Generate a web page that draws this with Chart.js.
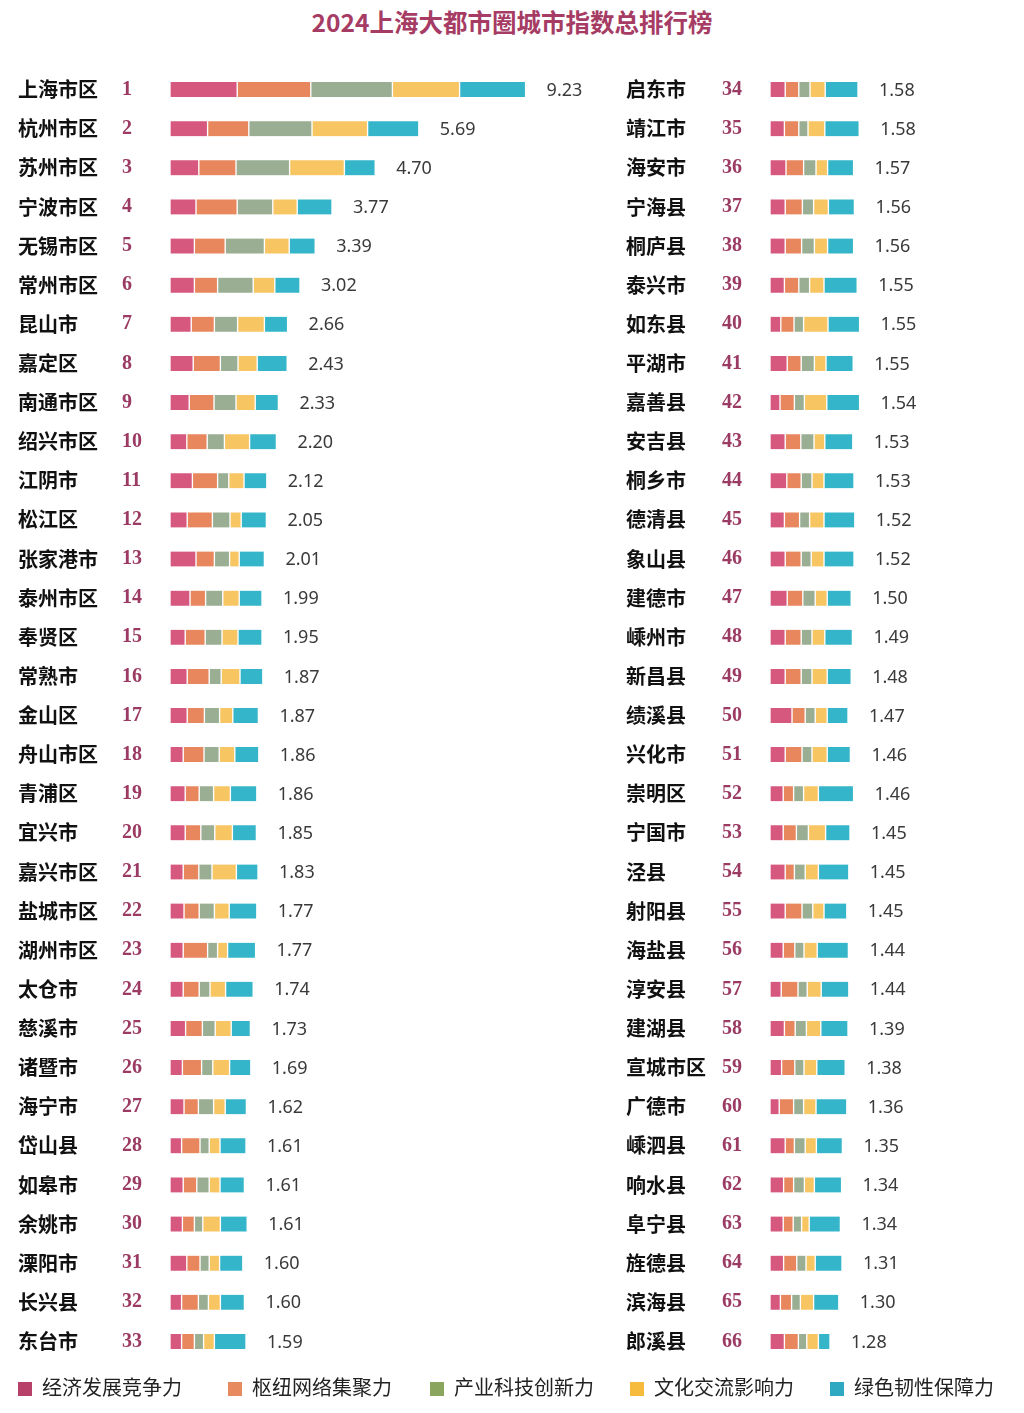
<!DOCTYPE html>
<html>
<head>
<meta charset="utf-8">
<script src="https://cdn.jsdelivr.net/npm/chart.js@4.4.1/dist/chart.umd.min.js"></script>
<style>
  body { margin: 0; background: #fff; width: 1024px; height: 1413px; position: relative; overflow: hidden; }
  #title { position: absolute; top: 4px; left: 0; width: 1024px; text-align: center;
           font: 700 24.5px "Noto Sans CJK SC", sans-serif; color: #a63b64; }
  .box { position: absolute; top: 57.6px; height: 1315px; }
  #legend { position: absolute; top: 1372px; left: 0; width: 1024px; height: 28px;
            font: 400 20px "Noto Sans CJK SC", sans-serif; color: #222; }
  #legend span.item { position: absolute; top: 0; white-space: nowrap; }
  #legend i { display: inline-block; width: 14px; height: 14px; margin-right: 10px; vertical-align: -1px; }
</style>
</head>
<body>
<div id="title">2024上海大都市圈城市指数总排行榜</div>
<div class="box" style="left:0;width:600px"><canvas id="left-chart"></canvas></div>
<div class="box" style="left:600px;width:424px"><canvas id="right-chart"></canvas></div>
<div id="legend"></div>
<script>
// series
let seriesNames = ['经济发展竞争力', '枢纽网络集聚力', '产业科技创新力', '文化交流影响力', '绿色韧性保障力'];
let barColors = ['#d6587f', '#e8875d', '#9aae93', '#f8c563', '#35b5c9'];
let legendColors = ['#b8416a', '#e88a60', '#8aa65e', '#f6bb3c', '#2fa9c2'];

// left column, ranks 1-33
let citiesLeft = ['上海市区', '杭州市区', '苏州市区', '宁波市区', '无锡市区', '常州市区', '昆山市', '嘉定区', '南通市区', '绍兴市区',
    '江阴市', '松江区', '张家港市', '泰州市区', '奉贤区', '常熟市', '金山区', '舟山市区', '青浦区', '宜兴市',
    '嘉兴市区', '盐城市区', '湖州市区', '太仓市', '慈溪市', '诸暨市', '海宁市', '岱山县', '如皋市', '余姚市',
    '溧阳市', '长兴县', '东台市'];
let ranksLeft = ['1', '2', '3', '4', '5', '6', '7', '8', '9', '10', '11', '12', '13', '14', '15', '16', '17',
    '18', '19', '20', '21', '22', '23', '24', '25', '26', '27', '28', '29', '30', '31', '32', '33'];
let totalsLeft = ['9.23', '5.69', '4.70', '3.77', '3.39', '3.02', '2.66', '2.43', '2.33', '2.20', '2.12', '2.05', '2.01',
    '1.99', '1.95', '1.87', '1.87', '1.86', '1.86', '1.85', '1.83', '1.77', '1.77', '1.74', '1.73', '1.69', '1.62',
    '1.61', '1.61', '1.61', '1.60', '1.60', '1.59'];
let econLeft = [1.68, 0.94, 0.72, 0.65, 0.61, 0.61, 0.53, 0.58, 0.48, 0.42, 0.56, 0.43, 0.65, 0.50, 0.38, 0.43, 0.43,
    0.33, 0.38, 0.38, 0.33, 0.35, 0.33, 0.33, 0.39, 0.31, 0.35, 0.29, 0.33, 0.31, 0.42, 0.29, 0.29];
let hubLeft = [1.84, 1.03, 0.93, 1.03, 0.77, 0.58, 0.58, 0.68, 0.62, 0.51, 0.63, 0.63, 0.46, 0.39, 0.50, 0.55, 0.43,
    0.52, 0.35, 0.39, 0.39, 0.38, 0.61, 0.40, 0.42, 0.48, 0.36, 0.46, 0.34, 0.30, 0.33, 0.42, 0.32];
let techLeft = [2.04, 1.58, 1.34, 0.89, 0.98, 0.89, 0.58, 0.44, 0.55, 0.43, 0.28, 0.44, 0.38, 0.43, 0.42, 0.30, 0.38,
    0.38, 0.36, 0.35, 0.33, 0.38, 0.25, 0.27, 0.32, 0.28, 0.38, 0.23, 0.31, 0.21, 0.23, 0.25, 0.23];
let cultureLeft = [1.68, 1.39, 1.37, 0.61, 0.62, 0.54, 0.67, 0.48, 0.48, 0.63, 0.38, 0.28, 0.24, 0.41, 0.40, 0.47, 0.33,
    0.39, 0.42, 0.44, 0.61, 0.37, 0.25, 0.39, 0.40, 0.42, 0.29, 0.27, 0.27, 0.44, 0.26, 0.30, 0.27];
let greenLeft = [1.65, 1.28, 0.77, 0.87, 0.65, 0.63, 0.58, 0.75, 0.58, 0.67, 0.57, 0.63, 0.63, 0.57, 0.60, 0.57, 0.64,
    0.60, 0.66, 0.60, 0.54, 0.69, 0.70, 0.69, 0.48, 0.53, 0.53, 0.65, 0.61, 0.67, 0.58, 0.60, 0.79];

// right column, ranks 34-66
let citiesRight = ['启东市', '靖江市', '海安市', '宁海县', '桐庐县', '泰兴市', '如东县', '平湖市', '嘉善县', '安吉县',
    '桐乡市', '德清县', '象山县', '建德市', '嵊州市', '新昌县', '绩溪县', '兴化市', '崇明区', '宁国市',
    '泾县', '射阳县', '海盐县', '淳安县', '建湖县', '宣城市区', '广德市', '嵊泗县', '响水县', '阜宁县',
    '旌德县', '滨海县', '郎溪县'];
let ranksRight = ['34', '35', '36', '37', '38', '39', '40', '41', '42', '43', '44', '45', '46', '47', '48', '49', '50',
    '51', '52', '53', '54', '55', '56', '57', '58', '59', '60', '61', '62', '63', '64', '65', '66'];
let totalsRight = ['1.58', '1.58', '1.57', '1.56', '1.56', '1.55', '1.55', '1.55', '1.54', '1.53', '1.53', '1.52', '1.52',
    '1.50', '1.49', '1.48', '1.47', '1.46', '1.46', '1.45', '1.45', '1.45', '1.44', '1.44', '1.39', '1.38', '1.36',
    '1.35', '1.34', '1.34', '1.31', '1.30', '1.28'];
let econRight = [0.38, 0.36, 0.40, 0.38, 0.38, 0.36, 0.27, 0.43, 0.25, 0.38, 0.42, 0.36, 0.38, 0.43, 0.38, 0.38, 0.55,
    0.38, 0.33, 0.33, 0.38, 0.38, 0.33, 0.28, 0.36, 0.29, 0.23, 0.38, 0.34, 0.33, 0.34, 0.26, 0.36];
let hubRight = [0.34, 0.36, 0.44, 0.43, 0.41, 0.36, 0.33, 0.35, 0.36, 0.39, 0.36, 0.38, 0.40, 0.39, 0.40, 0.40, 0.33,
    0.42, 0.26, 0.33, 0.23, 0.42, 0.29, 0.42, 0.27, 0.33, 0.36, 0.23, 0.25, 0.25, 0.33, 0.28, 0.35];
let techRight = [0.28, 0.23, 0.31, 0.28, 0.32, 0.27, 0.24, 0.33, 0.25, 0.33, 0.27, 0.25, 0.25, 0.31, 0.27, 0.27, 0.25,
    0.25, 0.25, 0.30, 0.27, 0.27, 0.23, 0.23, 0.28, 0.23, 0.25, 0.27, 0.27, 0.21, 0.23, 0.22, 0.21];
let cultureRight = [0.38, 0.42, 0.29, 0.37, 0.33, 0.36, 0.61, 0.29, 0.56, 0.27, 0.30, 0.36, 0.32, 0.30, 0.32, 0.38, 0.30,
    0.38, 0.37, 0.43, 0.33, 0.28, 0.33, 0.35, 0.36, 0.32, 0.31, 0.28, 0.25, 0.19, 0.23, 0.33, 0.29];
let greenRight = [0.82, 0.86, 0.65, 0.65, 0.65, 0.83, 0.79, 0.68, 0.82, 0.70, 0.75, 0.77, 0.75, 0.60, 0.69, 0.60, 0.52,
    0.58, 0.88, 0.61, 0.76, 0.57, 0.78, 0.69, 0.68, 0.71, 0.77, 0.65, 0.68, 0.78, 0.67, 0.63, 0.29];

// legend
let legendX = [18, 228, 430, 630, 830];
let legendEl = document.getElementById('legend');
seriesNames.forEach(function (name, i) {
    let item = document.createElement('span');
    item.className = 'item';
    item.style.left = legendX[i] + 'px';
    item.innerHTML = '<i style="background:' + legendColors[i] + '"></i>' + name;
    legendEl.appendChild(item);
});

let totalLabels = {
    id: 'totalLabels',
    afterDatasetsDraw(chart, args, opts) {
        let ctx = chart.ctx;
        let meta = chart.getDatasetMeta(chart.data.datasets.length - 1);
        ctx.save();
        ctx.font = '400 18px "Noto Sans", sans-serif';
        ctx.fillStyle = '#3a3a3a';
        ctx.textAlign = 'left';
        ctx.textBaseline = 'middle';
        meta.data.forEach(function (bar, i) {
            ctx.fillText(opts.totals[i], bar.x + 21, bar.y + 1);
        });
        ctx.restore();
    }
};

let makeChart = function (id, cities, ranks, totals, series, opts) {
    let ctx = document.getElementById(id).getContext('2d');
    return new Chart(ctx, {
        type: 'bar',
        data: {
            labels: cities,
            datasets: series.map(function (values, i) {
                return {
                    label: seriesNames[i],
                    data: values,
                    backgroundColor: barColors[i],
                    borderColor: '#ffffff',
                    borderWidth: {left: 1, right: 1, top: 0, bottom: 0},
                    borderSkipped: false,
                    barThickness: 15
                };
            })
        },
        options: {
            indexAxis: 'y',
            responsive: true,
            maintainAspectRatio: false,
            animation: false,
            layout: {padding: {left: opts.padLeft, right: 0, top: 0, bottom: 0}},
            plugins: {
                legend: {display: false},
                tooltip: {enabled: false},
                totalLabels: {totals: totals}
            },
            scales: {
                x: {type: 'linear', stacked: true, min: 0, max: opts.xMax, display: false},
                y: {
                    type: 'category', position: 'left', stacked: true, offset: true, weight: 1,
                    grid: {display: false}, border: {display: false},
                    ticks: {crossAlign: 'far', color: '#111', padding: 0,
                            font: {family: '"Noto Sans CJK SC", sans-serif', size: 20, weight: 700}},
                    afterFit: function (scale) { scale.width = opts.nameWidth; }
                },
                rank: {
                    type: 'category', position: 'left', labels: ranks, offset: true, weight: 0,
                    grid: {display: false}, border: {display: false},
                    ticks: {crossAlign: 'far', color: '#9b3a62', padding: 0,
                            font: {family: '"Liberation Serif", serif', size: 20, weight: 700}},
                    afterFit: function (scale) { scale.width = 48; }
                }
            }
        },
        plugins: [totalLabels]
    });
};

makeChart('left-chart', citiesLeft, ranksLeft, totalsLeft,
    [econLeft, hubLeft, techLeft, cultureLeft, greenLeft],
    {padLeft: 18, nameWidth: 104, xMax: 10.75});
makeChart('right-chart', citiesRight, ranksRight, totalsRight,
    [econRight, hubRight, techRight, cultureRight, greenRight],
    {padLeft: 26, nameWidth: 96, xMax: 6.35});
</script>
</body>
</html>
